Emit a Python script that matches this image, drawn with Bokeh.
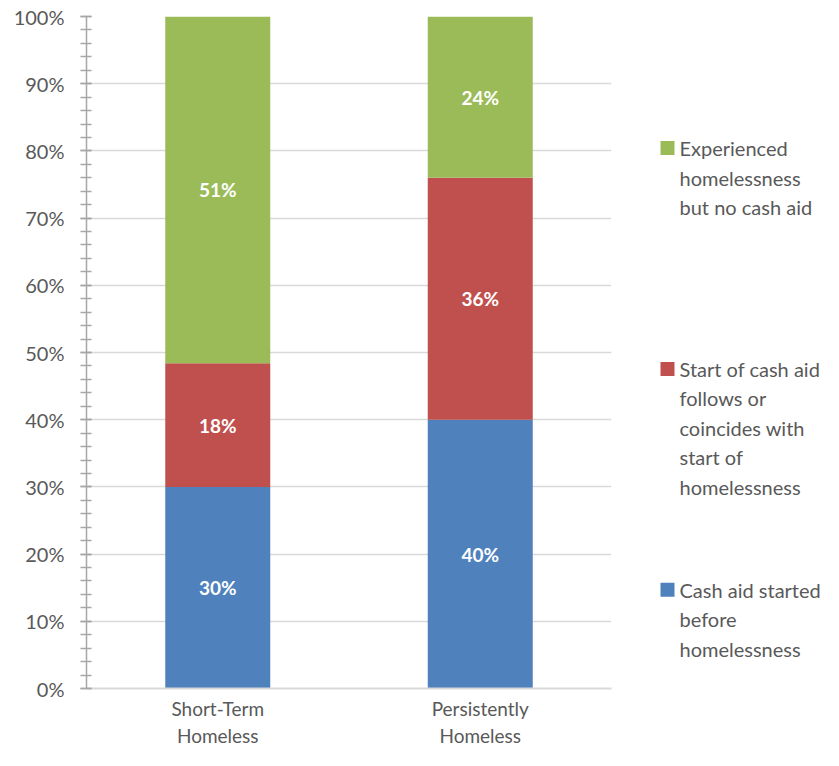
import numpy as np
from bokeh.plotting import figure
from bokeh.models import ColumnDataSource, FixedTicker, PrintfTickFormatter, Range1d
from bokeh.layouts import row
from bokeh.core.properties import value
from bokeh.embed import file_html
from bokeh.resources import INLINE

# ---- data ----
categories = ["Short-Term\nHomeless", "Persistently\nHomeless"]
series = ["Cash aid started before homelessness",
          "Start of cash aid follows or coincides with start of homelessness",
          "Experienced homelessness but no cash aid"]
cash_before = [30.0, 40.0]
cash_after = [18.4, 36.0]
no_cash = [51.6, 24.0]
labels_before = ["30%", "40%"]
labels_after = ["18%", "36%"]
labels_none = ["51%", "24%"]
legend_lines = [["Experienced", "homelessness", "but no cash aid"],
                ["Start of cash aid", "follows or", "coincides with", "start of", "homelessness"],
                ["Cash aid started", "before", "homelessness"]]
y_ticks = list(range(0, 101, 10))
y_minor = list(range(0, 101, 2))

colors = ["#4f81bd", "#c0504d", "#9bbb59"]
FONT = "Lato"
TXT = "#595959"

W_MAIN, W_LEG, H = 640, 183, 750
FR_TOP, FR_BOT = 16, 690

keys = ["before", "after", "none"]
src = ColumnDataSource(dict(cat=categories, before=cash_before, after=cash_after, none=no_cash))

p = figure(x_range=categories, y_range=Range1d(0, 100), width=W_MAIN, height=H,
           output_backend="svg", toolbar_location=None,
           min_border_left=86, min_border_right=29, min_border_top=FR_TOP,
           min_border_bottom=H - FR_BOT)
p.outline_line_color = None
p.vbar_stack(keys, x="cat", width=0.4, color=colors, line_color=None, source=src)

# label positions (segment midpoints)
vals = np.array([cash_before, cash_after, no_cash])
tops = np.cumsum(vals, axis=0)
mids = tops - vals / 2.0
lab_x, lab_y, lab_t = [], [], []
for s, labs in enumerate([labels_before, labels_after, labels_none]):
    for i, c in enumerate(categories):
        lab_x.append(c)
        lab_y.append(mids[s, i])
        lab_t.append(labs[i])
p.text(x=lab_x, y=lab_y, text=lab_t, text_color="white", text_font=value(FONT),
       text_font_style="bold", text_font_size="19px", text_align="center", text_baseline="middle")

p.xgrid.grid_line_color = None
p.ygrid.grid_line_color = "#d9d9d9"
p.ygrid.grid_line_width = 1.5

p.yaxis.ticker = FixedTicker(ticks=y_ticks, minor_ticks=y_minor)
p.yaxis.formatter = PrintfTickFormatter(format="%d%%")
p.yaxis.axis_line_color = "#a6a6a6"
p.yaxis.axis_line_width = 1.5
p.yaxis.major_tick_line_color = "#a6a6a6"
p.yaxis.minor_tick_line_color = "#a6a6a6"
p.yaxis.major_tick_line_width = 1.5
p.yaxis.minor_tick_line_width = 1.5
p.yaxis.major_tick_in = 5
p.yaxis.major_tick_out = 6
p.yaxis.minor_tick_in = 5
p.yaxis.minor_tick_out = 6
p.yaxis.major_label_standoff = 16
p.yaxis.major_label_text_font_size = "20px"

p.xaxis.axis_line_color = "#d9d9d9"
p.xaxis.axis_line_width = 2
p.xaxis.major_tick_line_color = None
p.xaxis.minor_tick_line_color = None
p.xaxis.major_tick_out = 0
p.xaxis.major_tick_in = 0
p.xaxis.major_label_standoff = 8
p.xaxis.major_label_text_font_size = "19px"

for ax in (p.xaxis, p.yaxis):
    ax.major_label_text_font = FONT
    ax.major_label_text_color = TXT

# ---- legend panel (frame aligned with the main plot's frame; page pixel coords) ----
lf = figure(width=W_LEG, height=H, x_range=Range1d(W_MAIN, W_MAIN + W_LEG),
            y_range=Range1d(FR_BOT, FR_TOP),
            output_backend="svg", toolbar_location=None, x_axis_type=None, y_axis_type=None,
            min_border_left=0, min_border_right=0, min_border_top=FR_TOP,
            min_border_bottom=H - FR_BOT)
lf.outline_line_color = None
lf.grid.grid_line_color = None

item_y0, item_gap, line_gap = 148.0, 221.5, 29.5
sq_x, txt_x = 667, 679
leg_colors = [colors[2], colors[1], colors[0]]
lf.scatter(x=[sq_x] * 3, y=[item_y0 + k * item_gap for k in range(3)], marker="square",
           size=14, color=leg_colors, line_color=None)
tx, ty, tt = [], [], []
for k, lines in enumerate(legend_lines):
    for j, ln in enumerate(lines):
        tx.append(txt_x)
        ty.append(item_y0 + k * item_gap + j * line_gap)
        tt.append(ln)
lf.text(x=tx, y=ty, text=tt, text_color=TXT, text_font=value(FONT), text_font_size="20px",
        text_align="left", text_baseline="middle")

layout = row(p, lf)
open("out.html", "w").write(file_html(layout, INLINE))
